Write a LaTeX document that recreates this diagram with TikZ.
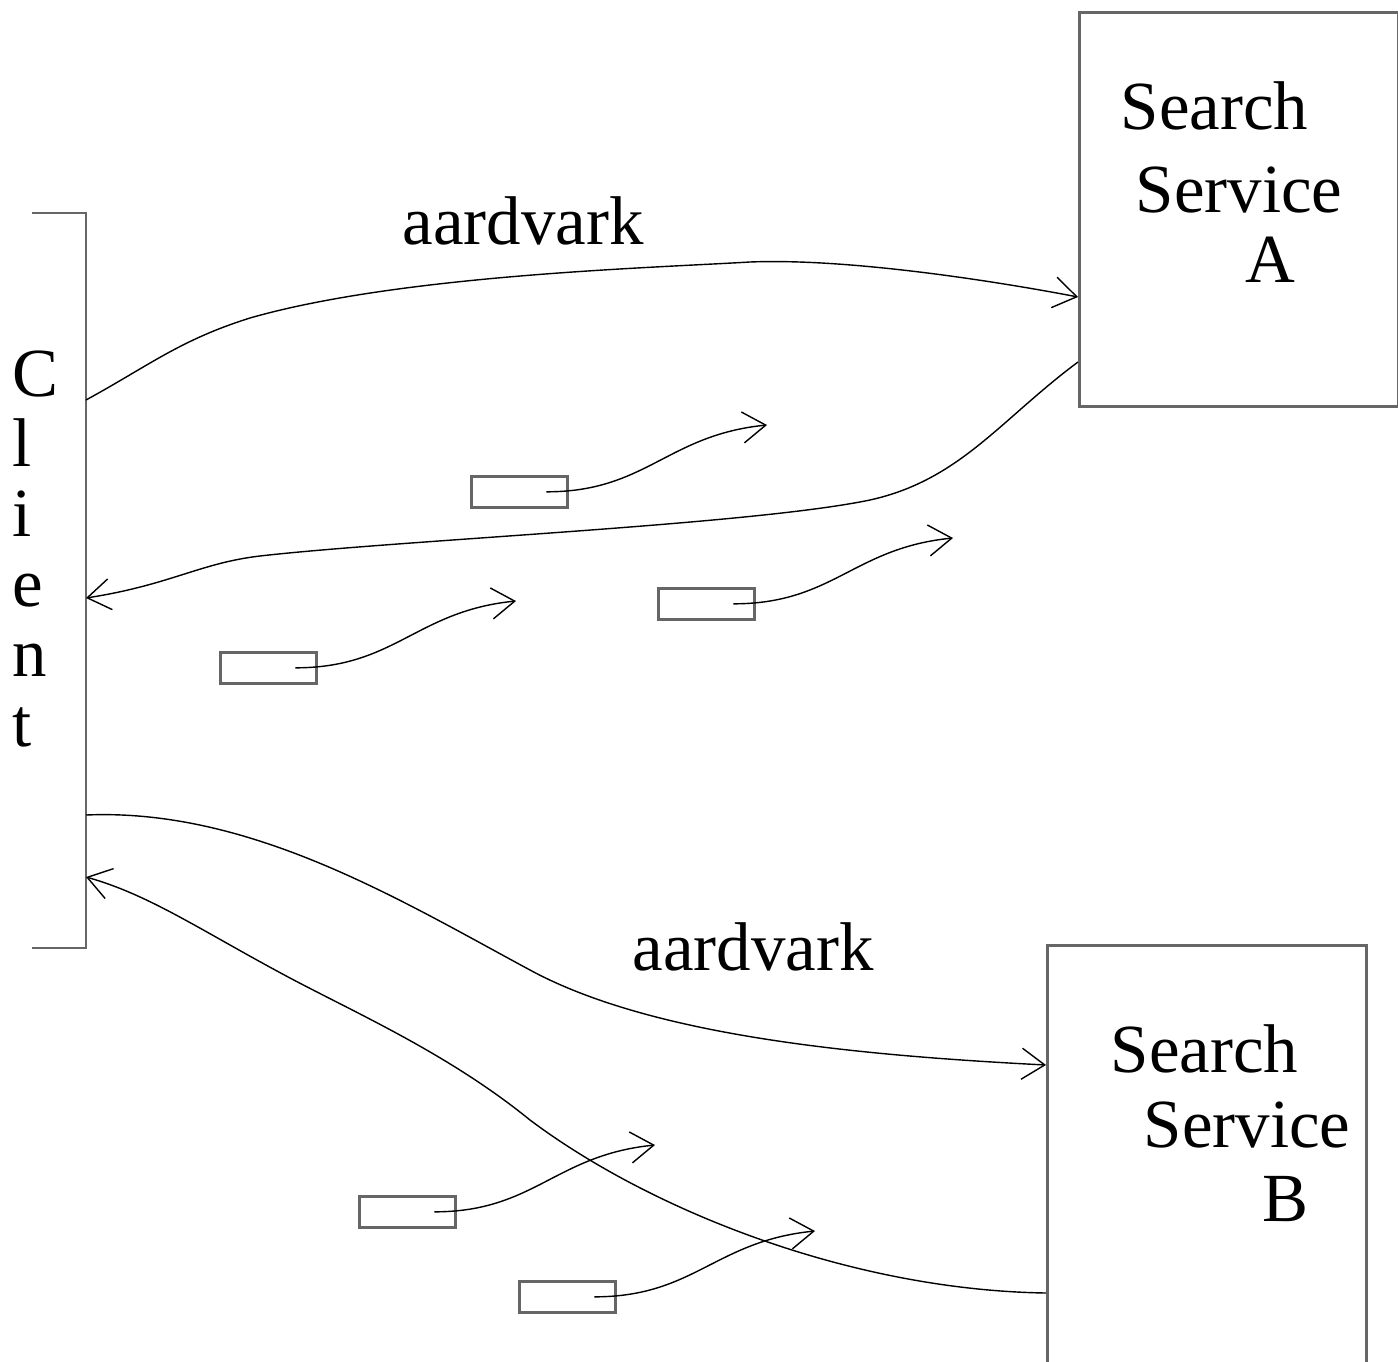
\documentclass[tikz,border=0pt]{standalone}
\usepackage{fontspec}
\setmainfont{Liberation Serif}
\usetikzlibrary{arrows.meta,positioning}
\tikzset{
    box color/.style={black!60},
    box style/.style={draw,box color,line width=0.75pt},
    msgbox/.style={box style,rectangle,inner sep=0pt,minimum width=0.96cm,minimum height=0.31cm},
    service/.style={box style,rectangle,inner sep=0pt,minimum width=3.19cm,minimum height=3.94cm},
    arr/.style={-{Straight Barb[length=2.3mm,width=3.1mm]},thin},
    big text/.style={font=\fontsize{19.6}{24}\selectfont,inner sep=0pt},
}

\begin{document}
\begin{tikzpicture}[x=0.01cm,y=-0.01cm]
    \useasboundingbox (0,0) rectangle (1398,1361);
    \clip (0,0) rectangle (1398,1361);
    % client bracket
    \draw[box style] (32,213) -- (86,213) -- (86,948) -- (32,948);
    \node[big text,anchor=north west,align=left,font=\fontsize{19.6}{19.9}\selectfont] (client) at (12,350) {C\\l\\i\\e\\n\\t};
    \coordinate (cOut1) at (86,400);
    \coordinate (cIn1) at (86,598);
    \coordinate (cOut2) at (86,815);
    \coordinate (cIn2) at (86,877);
    % services
    \node[service,anchor=north west] (svcA) at (1078,11) {};
    \node[big text,anchor=base west] (svcA1) at (1120,130) {Search};
    \node[big text,anchor=base west] (svcA2) at (1135,213) {Service};
    \node[big text,anchor=base west] (svcA3) at (1245,283) {A};
    \coordinate (aIn) at (1078,297);
    \coordinate (aOut) at (1078,362);
    \node[service,anchor=north west,minimum height=5cm] (svcB) at (1046,944) {};
    \node[big text,anchor=base west] (svcB1) at (1110,1072) {Search};
    \node[big text,anchor=base west] (svcB2) at (1143,1147) {Service};
    \node[big text,anchor=base west] (svcB3) at (1262,1221) {B};
    \coordinate (bIn) at (1046,1065);
    \coordinate (bOut) at (1046,1293);
    % requests and replies
    \node[big text,anchor=base] (reqA) at (523,245) {aardvark};
    \draw[arr] (cOut1) .. controls (150,365) and (180,340) .. (250,318) .. controls (400,275) and (650,268) .. (750,262) .. controls (850,258) and (1000,282) .. (aIn);
    \draw[arr] (aOut) .. controls (1000,420) and (960,480) .. (870,500) .. controls (750,525) and (400,540) .. (260,556) .. controls (200,563) and (170,585) .. (cIn1);
    \node[big text,anchor=base] (reqB) at (753,970) {aardvark};
    \draw[arr] (cOut2) .. controls (250,808) and (400,900) .. (530,970) .. controls (650,1035) and (850,1055) .. (bIn);
    \draw[arr] (bOut) .. controls (850,1290) and (650,1210) .. (530,1120) .. controls (450,1055) and (360,1015) .. (290,978) .. controls (200,930) and (150,895) .. (cIn2);
    % result messages
    \node[msgbox,anchor=north west] (msg1) at (470,475) {};
    \coordinate (tip1) at (767,425);
    \draw[arr] ([xshift=0.27cm]msg1.center) .. controls +(100,0) and +(-100,10) .. (tip1);
    \node[msgbox,anchor=north west] (msg2) at (657,587) {};
    \coordinate (tip2) at (953,538);
    \draw[arr] ([xshift=0.27cm]msg2.center) .. controls +(100,0) and +(-100,10) .. (tip2);
    \node[msgbox,anchor=north west] (msg3) at (219,651) {};
    \coordinate (tip3) at (516,601);
    \draw[arr] ([xshift=0.27cm]msg3.center) .. controls +(100,0) and +(-100,10) .. (tip3);
    \node[msgbox,anchor=north west] (msg4) at (358,1195) {};
    \coordinate (tip4) at (655,1145);
    \draw[arr] ([xshift=0.27cm]msg4.center) .. controls +(100,0) and +(-100,10) .. (tip4);
    \node[msgbox,anchor=north west] (msg5) at (518,1280) {};
    \coordinate (tip5) at (815,1231);
    \draw[arr] ([xshift=0.27cm]msg5.center) .. controls +(100,0) and +(-100,10) .. (tip5);
\end{tikzpicture}
\end{document}
